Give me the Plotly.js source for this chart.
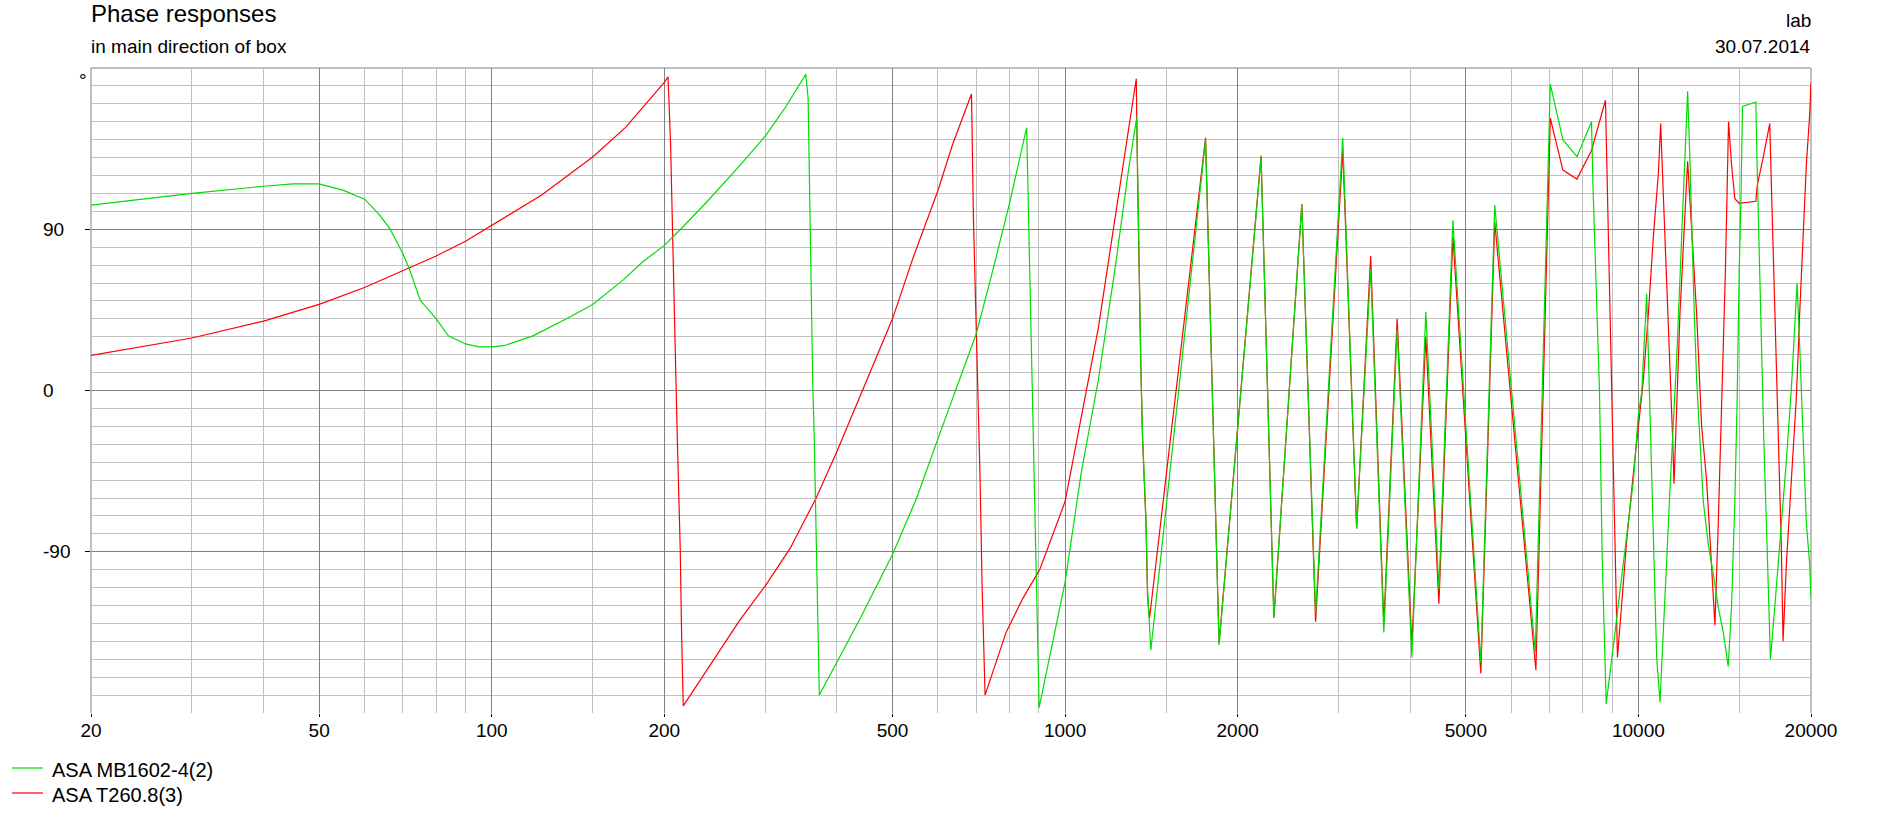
<!DOCTYPE html>
<html>
<head>
<meta charset="utf-8">
<script src="https://cdn.plot.ly/plotly-3.0.1.min.js"></script>
<style>
  html, body { margin: 0; padding: 0; background: #ffffff; }
  #chart { width: 1896px; height: 829px; }
</style>
</head>
<body>
<div id="chart"></div>
<script>
// ---------- data ----------
const seriesNames = ["ASA MB1602-4(2)", "ASA T260.8(3)"];
const seriesColors = ["#00dc00", "#ff0000"];

// ASA MB1602-4(2)  (green)
const greenFreq = [
  20, 30, 40, 45, 50, 55, 60, 63.5, 66.4, 70, 72, 75, 80, 84, 90, 95, 100, 105, 118, 135, 150, 170, 183, 200, 215, 236, 271, 300, 326, 353,
  356.3, 358.5, 360.7, 363, 365.2, 367.6, 369.9, 372.7,
  404, 438, 500, 551, 600, 646, 700, 748, 800, 857,
  862, 868, 875, 882, 889, 896, 901,
  1000, 1067, 1143, 1221, 1290, 1333,
  1338, 1347, 1356, 1365, 1384, 1393, 1402, 1411,
  1758, 1856, 2197, 2313, 2588, 2735, 3050, 3225, 3412, 3597, 3795, 4026, 4258, 4488, 4747, 5311, 5616, 6610, 7020, 7383, 7812, 8283,
  8329, 8419, 8509, 8554, 8646, 8739, 8786,
  9047, 9417, 9802, 10000, 10134, 10340,
  10409, 10549, 10647, 10762, 10906,
  11053, 11353, 11662, 11896, 12055, 12186,
  12300, 12383, 12515, 12634, 12806, 12977, 13240, 13505, 13782, 14061, 14343,
  14535, 14731, 14870, 14990, 15091, 15190, 16023,
  16108, 16237, 16390, 16544, 16720, 16834, 16993,
  17290, 17640, 18116, 18483, 18733, 18910,
  19110, 19370, 19630, 19895, 20000
];
const greenPhase = [
  103.5, 110, 114, 115.3, 115.3, 111.8, 106.8, 98.6, 90.4, 76.3, 67, 50.5, 40, 30.5, 26, 24.3, 24.3, 25, 30.5, 40, 48, 62, 71.6, 81, 91, 104.5, 125.6, 142, 158.5, 176.5,
  163, 109, 57.5, 3.5, -27, -74, -121, -170,
  -149, -128, -91.5, -60, -27, 1, 31.7, 67, 104.5, 146.7,
  109, 60, 8, -39, -88, -140, -177,
  -107, -46, 6, 67, 123, 152,
  125, 60, 12, -25, -72, -112, -128, -145,
  140, -142, 130, -126.5, 104, -124, 141, -77, 68, -135, 34, -149, 44, -111, 95, -152, 103.5, -146, 171, 140, 130.5, 150,
  116, 69, 25, -1, -93, -158, -175,
  -142, -95, -50, -13, -1, 54,
  20, -50, -97, -149, -174,
  -133, -55, 18, 86, 137, 167,
  128, 90, 43, 6, -27, -62, -86, -102, -121, -135, -154,
  -121, -62, -3.5, 67, 104.5, 158.5, 161,
  126, 79, 20, -27, -74, -109, -150,
  -121, -86, -39, 1, 34, 60,
  25, -27, -74, -97, -116
];

// ASA T260.8(3)  (red)
const redFreq = [
  20, 30, 40, 50, 60, 70, 80, 90, 100, 122, 150, 171, 200, 203,
  205.1, 206.5, 207.9, 209.3, 210.7, 212.1, 213.2, 214.4, 215.8,
  271, 300, 331.6, 368, 400, 438, 500, 543, 600, 636, 686.7,
  692, 699.6, 704.3, 710.9, 716.6, 725.2,
  789, 844, 903, 950, 1000, 1143, 1221, 1331,
  1338, 1347, 1356, 1365, 1384, 1393, 1404,
  1758, 1856, 2197, 2313, 2588, 2735, 3050, 3225, 3412, 3597, 3795, 4026, 4258, 4488, 4747, 5311, 5616, 6625, 7020, 7383, 7812, 8283, 8761,
  8807, 8867, 8928, 9000, 9073, 9122, 9193,
  9355, 9544, 9802, 10000, 10202, 10409, 10619, 10834, 10935,
  11053, 11201, 11353, 11475, 11537,
  11817, 12186,
  12383, 12634, 12890, 13150, 13350, 13505, 13596,
  13782, 13980, 14183, 14363,
  14535, 14731, 14990, 16023, 16108, 16503, 16946,
  17060, 17290, 17520, 17750, 17877,
  18116, 18483, 18860, 19110, 19370, 19630, 19895, 20000
];
const redPhase = [
  19.6, 29.3, 38.7, 48.1, 57.5, 66.9, 75.1, 83.3, 92.3, 109, 130.3, 146.7, 172, 175,
  137, 88, 48, 13, -27, -62, -89, -137, -176,
  -128, -109, -88, -60, -34, -3.5, 40, 74, 111.5, 137, 165.5,
  97, 43, -3.5, -50, -109, -170,
  -135, -116, -100, -81, -62, 35, 95, 174,
  118, 57, 11, -27, -74, -116, -127,
  141, -141, 131, -127, 104, -129, 134, -77, 75, -130, 40, -142, 30, -119, 86, -158, 94, -156, 152, 123, 118, 134, 162,
  128, 79, 32, -27, -74, -109, -149,
  -118.5, -83, -46, -20, 6, 43, 86, 121, 149,
  109, 62, 20, -27, -52,
  43, 128,
  90, 43, -20, -50, -86, -118, -131,
  -74, -3.5, 67, 150,
  126, 107, 104.5, 105.6, 114, 130, 149,
  114, 43, -27, -86, -140,
  -97, -50, -3.5, 43, 90, 126, 154, 172
];

// axis ticks / grid
const freqMajor = [20, 50, 100, 200, 500, 1000, 2000, 5000, 10000, 20000];
const freqMajorLabels = ["20", "50", "100", "200", "500", "1000", "2000", "5000", "10000", "20000"];
const freqMinor = [30, 40, 60, 70, 80, 90, 150, 300, 400, 600, 700, 800, 900, 1500, 3000, 4000, 6000, 7000, 8000, 9000, 15000];
const phaseMajor = [-90, 0, 90];
const phaseMajorLabels = ["-90", "0", "90"];
const phaseMinor = [-170, -160, -150, -140, -130, -120, -110, -100, -80, -70, -60, -50, -40, -30, -20, -10,
                    10, 20, 30, 40, 50, 60, 70, 80, 100, 110, 120, 130, 140, 150, 160, 170];

// ---------- chart ----------
const FONT = "Liberation Sans, Arial, Helvetica, sans-serif";
const W = 1896, H = 829;
const M = {l: 91, r: 85, t: 68, b: 116};
const PW = W - M.l - M.r, PH = H - M.t - M.b;
const px2x = px => (px - M.l) / PW;
const px2y = py => (M.t + PH - py) / PH;

const traces = [
  {
    type: "scatter", mode: "lines", name: seriesNames[1],
    x: redFreq, y: redPhase,
    line: {color: seriesColors[1], width: 1.2},
    showlegend: false, hoverinfo: "skip"
  },
  {
    type: "scatter", mode: "lines", name: seriesNames[0],
    x: greenFreq, y: greenPhase,
    line: {color: seriesColors[0], width: 1.2},
    showlegend: false, hoverinfo: "skip"
  }
];

const txt = (x, y, text, xanchor, size) => ({
  xref: "paper", yref: "paper", x: x, y: y, xanchor: xanchor, yanchor: "middle",
  text: text, showarrow: false, font: {family: FONT, size: size, color: "#000"},
  borderpad: 0, borderwidth: 0
});

const annotations = phaseMajor.map((v, i) => ({
  xref: "paper", yref: "y", x: px2x(43), y: v,
  xanchor: "left", yanchor: "middle",
  text: phaseMajorLabels[i], showarrow: false,
  font: {family: FONT, size: 19, color: "#000"},
  borderpad: 0, borderwidth: 0
}));
annotations.push(
  txt(px2x(79), px2y(80), "°", "left", 19),
  txt(px2x(91), px2y(46), "in main direction of box", "left", 19),
  txt(px2x(1811), px2y(21), "lab", "right", 19),
  txt(px2x(1811), px2y(46), "30.07.2014", "right", 19)
);

const shapes = [
  {type: "line", xref: "paper", yref: "paper", x0: 0, x1: 1, y0: 1, y1: 1, line: {color: "#808080", width: 1}, layer: "between"},
  {type: "line", xref: "paper", yref: "paper", x0: 0, x1: 0, y0: 0, y1: 1, line: {color: "#808080", width: 1}, layer: "between"},
  {type: "line", xref: "paper", yref: "paper", x0: 1, x1: 1, y0: 0, y1: 1, line: {color: "#808080", width: 1}, layer: "between"}
];

// legend drawn as line samples + labels below the plot
const legendRows = [768, 793];
seriesNames.forEach((name, i) => {
  shapes.push({type: "line", xref: "paper", yref: "paper",
    x0: px2x(12), x1: px2x(43), y0: px2y(legendRows[i]), y1: px2y(legendRows[i]),
    line: {color: seriesColors[i], width: 1.2}, layer: "above"});
  annotations.push(txt(px2x(52), px2y(legendRows[i] + 2), name, "left", 20));
});

const layout = {
  width: W, height: H,
  margin: {l: M.l, r: M.r, t: M.t, b: M.b, pad: 0, autoexpand: false},
  paper_bgcolor: "#ffffff", plot_bgcolor: "#ffffff",
  font: {family: FONT, size: 19, color: "#000"},
  title: {
    text: "Phase responses",
    font: {family: FONT, size: 24, color: "#000"},
    xref: "paper", x: 0, xanchor: "left",
    yref: "container", y: 1 - 14 / H, yanchor: "middle"
  },
  showlegend: false,
  xaxis: {
    type: "log",
    range: [Math.log10(20), Math.log10(20000)],
    tickmode: "array", tickvals: freqMajor, ticktext: freqMajorLabels,
    showgrid: true, gridcolor: "#808080", gridwidth: 1,
    ticks: "outside", ticklen: 3, tickcolor: "#000", tickwidth: 1,
    ticklabelstandoff: -3,
    showline: false, zeroline: false,
    tickfont: {family: FONT, size: 19, color: "#000"},
    minor: {tickmode: "array", tickvals: freqMinor, showgrid: true, gridcolor: "#c0c0c0", gridwidth: 1, ticks: ""},
    fixedrange: true
  },
  yaxis: {
    range: [-180, 180],
    tickmode: "array", tickvals: phaseMajor, ticktext: phaseMajorLabels,
    showticklabels: false,
    showgrid: true, gridcolor: "#808080", gridwidth: 1,
    ticks: "outside", ticklen: 5, tickcolor: "#000", tickwidth: 1,
    showline: false, zeroline: false,
    minor: {tickmode: "array", tickvals: phaseMinor, showgrid: true, gridcolor: "#c0c0c0", gridwidth: 1, ticks: ""},
    fixedrange: true
  },
  annotations: annotations,
  shapes: shapes,
  hovermode: false
};

Plotly.newPlot("chart", traces, layout, {displayModeBar: false, staticPlot: true});
</script>
</body>
</html>
